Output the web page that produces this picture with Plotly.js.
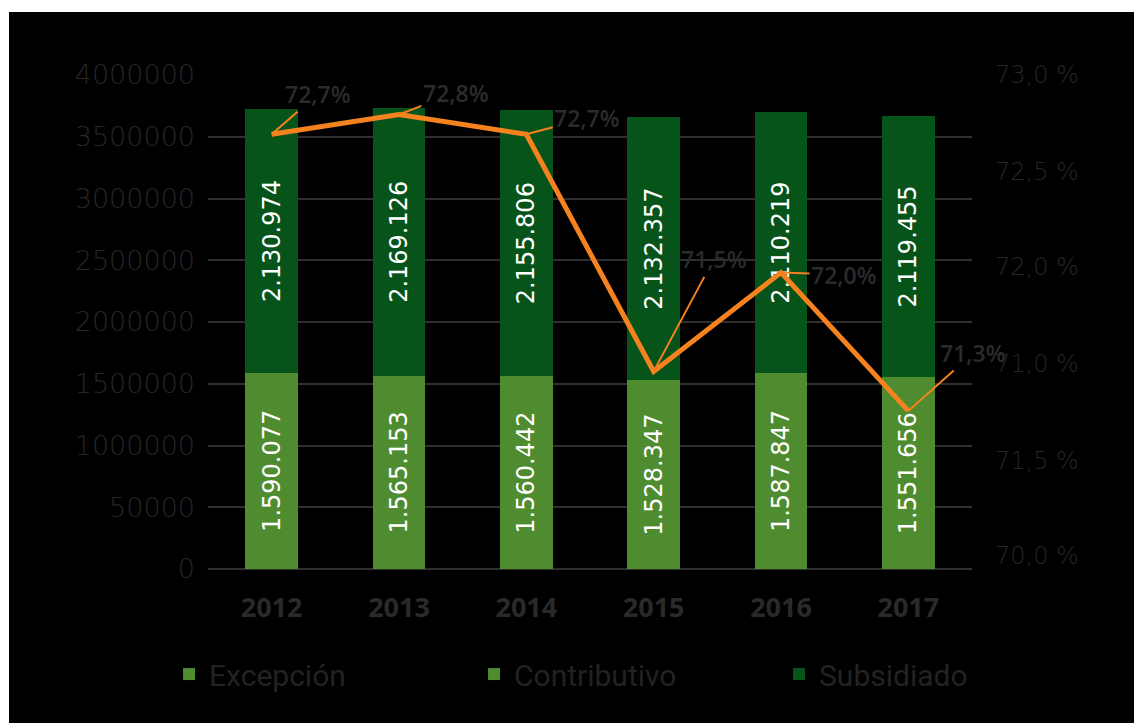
<!DOCTYPE html>
<html>
<head>
<meta charset="utf-8">
<script src="https://cdn.plot.ly/plotly-3.0.1.min.js"></script>
<style>
  html, body { margin: 0; padding: 0; background: #ffffff; }
  #chart { position: absolute; left: 9px; top: 12px; width: 1125px; height: 711px; }
</style>
</head>
<body>
<div id="chart"></div>
<script>
// ---- data ----
const years = ['2012', '2013', '2014', '2015', '2016', '2017'];
const excepcion = [0, 0, 0, 0, 0, 0];
const contributivo = [1590077, 1565153, 1560442, 1528347, 1587847, 1551656];
const subsidiado = [2130974, 2169126, 2155806, 2132357, 2110219, 2119455];
const porcentaje = [72.7, 72.8, 72.7, 71.5, 72.0, 71.3];
const porcentajeLabels = ['72,7%', '72,8%', '72,7%', '71,5%', '72,0%', '71,3%'];
const leftTickVals = [0, 500000, 1000000, 1500000, 2000000, 2500000, 3000000, 3500000, 4000000];
const leftTickText = ['0', '50000', '1000000', '1500000', '2000000', '2500000', '3000000', '3500000', '4000000'];
const rightTickVals = [73.0, 72.51, 72.03, 71.54, 71.05, 70.57];
const rightTickText = ['73,0 %', '72,5 %', '72,0 %', '71,0 %', '71,5 %', '70,0 %'];
// label offsets (pixels) for the callouts
const calloutAx = [46, 57, 61, 60, 63, 65];
const calloutAy = [-40, -22, -16, -112, 2, -58];

const lightGreen = '#4e8c2f';
const darkGreen = '#07541b';
const orange = '#f5821f';
const dimText = '#262626';

const barText = { family: 'DejaVu Sans, sans-serif', size: 24, color: '#ffffff' };

const traces = [
  {
    type: 'bar', name: 'Excepción', x: years, y: excepcion,
    marker: { color: lightGreen }, hoverinfo: 'skip', textposition: 'none'
  },
  {
    type: 'bar', name: 'Contributivo', x: years, y: contributivo,
    marker: { color: lightGreen },
    texttemplate: '%{y:,d}', textposition: 'inside', insidetextanchor: 'middle',
    textangle: -90, textfont: barText, insidetextfont: barText
  },
  {
    type: 'bar', name: 'Subsidiado', x: years, y: subsidiado,
    marker: { color: darkGreen },
    texttemplate: '%{y:,d}', textposition: 'inside', insidetextanchor: 'middle',
    textangle: -90, textfont: barText, insidetextfont: barText
  },
  {
    type: 'scatter', mode: 'lines', name: '%', x: years, y: porcentaje,
    yaxis: 'y2', line: { color: orange, width: 5 }, showlegend: false
  }
];

const annotations = years.map((yr, i) => ({
  x: i, y: porcentaje[i], xref: 'x', yref: 'y2',
  text: porcentajeLabels[i],
  showarrow: true, arrowhead: 0, arrowwidth: 2, arrowcolor: orange,
  ax: calloutAx[i], ay: calloutAy[i], standoff: 0, startstandoff: 0,
  font: { family: 'Open Sans, sans-serif', size: 23, color: '#2b2b2b', weight: 600 }
}));

const layout = {
  width: 1125, height: 711,
  paper_bgcolor: '#000000', plot_bgcolor: '#000000',
  margin: { l: 199, r: 162, t: 63, b: 154 },
  separators: ',.',
  barmode: 'stack', bargap: 0.584,
  showlegend: true,
  legend: {
    orientation: 'h', x: -0.051, xanchor: 'left', y: -0.16, yanchor: 'top',
    traceorder: 'normal',
    font: { family: 'Roboto, sans-serif', size: 30, color: '#222222' },
    entrywidth: 260, entrywidthmode: 'pixels', bgcolor: 'rgba(0,0,0,0)'
  },
  xaxis: {
    type: 'category', categoryorder: 'array', categoryarray: years,
    range: [-0.5, 5.5], autorange: false,
    showgrid: false, showline: false, ticks: '',
    ticklabelstandoff: 20,
    tickfont: { family: 'Open Sans, sans-serif', size: 27, color: '#2a2a2a', weight: 700 }
  },
  yaxis: {
    range: [0, 4000000], autorange: false, tickmode: 'array', tickvals: leftTickVals, ticktext: leftTickText,
    showgrid: true, gridcolor: '#2f2f2f', gridwidth: 2,
    zeroline: true, zerolinecolor: '#2f2f2f', zerolinewidth: 2,
    showline: false, ticks: '', ticklabelstandoff: 12,
    tickfont: { family: 'DejaVu Sans, sans-serif', size: 27, color: dimText, weight: 200 }
  },
  yaxis2: {
    overlaying: 'y', side: 'right', range: [70.5, 73.0], autorange: false,
    tickmode: 'array', tickvals: rightTickVals, ticktext: rightTickText,
    showgrid: false, zeroline: false, showline: false, ticks: '', ticklabelstandoff: 22,
    tickfont: { family: 'DejaVu Sans, sans-serif', size: 24, color: dimText, weight: 200 }
  },
  annotations: annotations
};

Plotly.newPlot('chart', traces, layout, { displayModeBar: false, staticPlot: true });
</script>
</body>
</html>
